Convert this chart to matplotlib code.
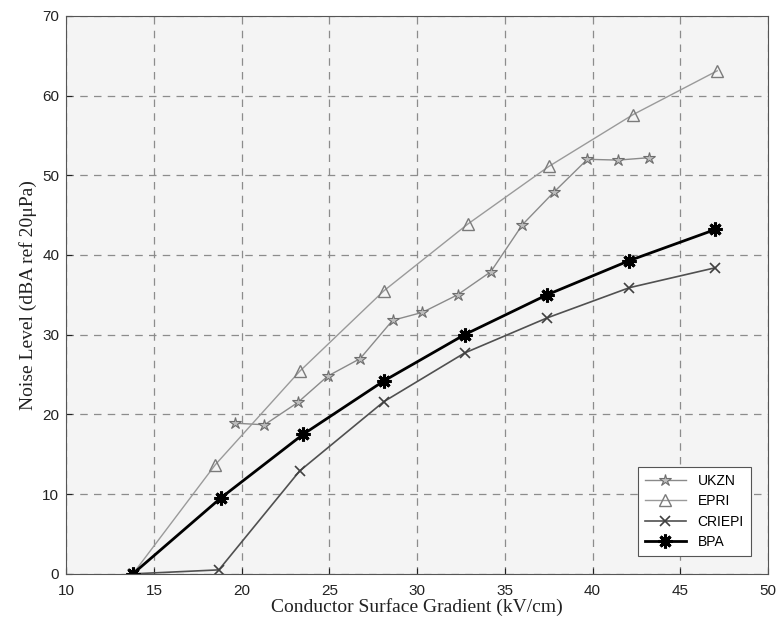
import numpy as np
import matplotlib
matplotlib.use('Agg')
import matplotlib.pyplot as plt

# Data
ukzn_x = [19.6, 21.3, 23.2, 24.9, 26.75, 28.6, 30.3, 32.3, 34.2, 36.0, 37.8, 39.7, 41.45, 43.2]
ukzn_y = [18.9, 18.7, 21.5, 24.8, 27.0, 31.8, 32.8, 35.0, 37.9, 43.8, 47.9, 52.0, 51.9, 52.2]

epri_x = [13.8, 18.5, 23.3, 28.1, 32.9, 37.5, 42.3, 47.1]
epri_y = [0.0, 13.7, 25.4, 35.5, 43.9, 51.1, 57.6, 63.1]

criepi_x = [13.8, 18.7, 23.3, 28.1, 32.7, 37.4, 42.1, 47.0]
criepi_y = [0.0, 0.5, 12.9, 21.6, 27.7, 32.1, 35.9, 38.4]

bpa_x = [13.8, 18.8, 23.5, 28.1, 32.7, 37.4, 42.1, 47.0]
bpa_y = [0.0, 9.5, 17.5, 24.2, 30.0, 35.0, 39.3, 43.2]

xticks = [10, 15, 20, 25, 30, 35, 40, 45, 50]
yticks = [0, 10, 20, 30, 40, 50, 60, 70]

fig = plt.figure(figsize=(7.79, 6.32), dpi=100)
ax = fig.add_axes([0.085, 0.092, 0.901, 0.883])
ax.set_facecolor('#f4f4f4')

ax.plot(ukzn_x, ukzn_y, color='#8a8a8a', lw=1.0, marker='*', ms=9,
        mfc='#bdbdbd', mec='#6e6e6e', mew=0.8, label='UKZN')
ax.plot(epri_x, epri_y, color='#9a9a9a', lw=1.0, marker='^', ms=9,
        mfc='none', mec='#7a7a7a', mew=1.0, label='EPRI')
ax.plot(criepi_x, criepi_y, color='#505050', lw=1.2, marker='x', ms=7,
        mec='#404040', mew=1.2, label='CRIEPI')
ax.plot(bpa_x, bpa_y, color='black', lw=2.0, marker=(8, 2, 0), ms=10,
        mec='black', mew=2.2, label='BPA')

ax.set_xlim(10, 50)
ax.set_ylim(0, 70)
ax.set_xticks(xticks)
ax.set_yticks(yticks)
ax.tick_params(direction='in', length=4, labelsize=11, colors='#222222')
ax.tick_params(axis='x', pad=7)
ax.tick_params(axis='y', pad=5)
for lab in ax.get_xticklabels() + ax.get_yticklabels():
    lab.set_family('Liberation Sans')

ax.grid(True, ls=(0, (6, 5)), color='#8c8c8c', lw=0.9)
for sp in ax.spines.values():
    sp.set_color('#555555')
    sp.set_linewidth(0.8)

ax.set_xlabel('Conductor Surface Gradient (kV/cm)', family='Liberation Serif',
              fontsize=14, color='#222222', labelpad=0)
ax.set_ylabel('Noise Level (dBA ref 20\u03bcPa)', family='Liberation Serif',
              fontsize=14, color='#222222', labelpad=4)

leg = ax.legend(loc='lower right', prop={'family': 'Liberation Sans', 'size': 10},
                frameon=True, fancybox=False, edgecolor='#555555', framealpha=1,
                handlelength=3.0, borderpad=0.5, labelspacing=0.45,
                bbox_to_anchor=(0.985, 0.02))
leg.get_frame().set_linewidth(0.8)

fig.savefig('out.png', dpi=100)
